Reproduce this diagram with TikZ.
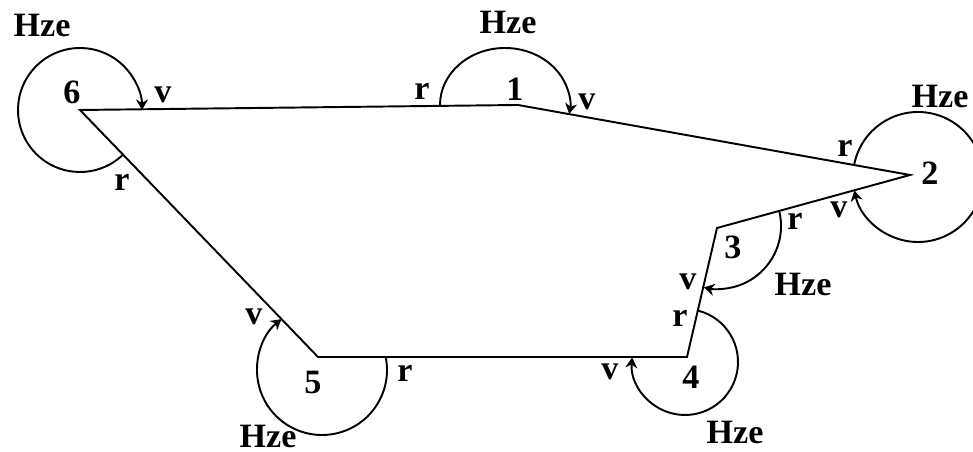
\documentclass[tikz,border=0pt]{standalone}
\usepackage{fontspec}
\setmainfont{Liberation Serif}
\usetikzlibrary{arrows.meta}
\tikzset{angarc/.style={-{Stealth[length=3pt,width=3.4pt]}}}
\begin{document}
\begin{tikzpicture}[every node/.style={font=\fontsize{9.7}{11}\selectfont\bfseries, inner sep=0pt}, line width=0.55pt, x=0.01cm, y=0.01cm]
  \useasboundingbox (0,0) rectangle (973,452);
  % corners of the polygon, numbered as printed
  \coordinate (n1) at (518,347); \coordinate (n2) at (910,277); \coordinate (n3) at (717,224);
  \coordinate (n4) at (687,95); \coordinate (n5) at (318,95); \coordinate (n6) at (80,342);
  \draw (n6) -- (n1) -- (n2) -- (n3) -- (n4) -- (n5) -- cycle;
  % centres of the angle arcs, r -> v
  \coordinate (c1) at (505,347); \coordinate (c2) at (918,275); \coordinate (c3) at (718,226);
  \coordinate (c4) at (685,90); \coordinate (c5) at (322,82);
  \draw[angarc] ([shift={(-46:62)}]n6) arc[start angle=-46, end angle=-360, radius=62];
  \draw[angarc] ([shift={(-65,0)}]c1) arc[start angle=180, end angle=-9, x radius=65, y radius=57];
  \draw[angarc] ([shift={(169:65)}]c2) arc[start angle=169, end angle=-168, radius=65];
  \draw[angarc] ([shift={(14:63)}]c3) arc[start angle=14, end angle=-103, radius=63];
  \draw[angarc] ([shift={(76:53)}]c4) arc[start angle=76, end angle=-185, radius=53];
  \draw[angarc] ([shift={(11.5:65)}]c5) arc[start angle=11.5, end angle=-231.5, radius=65];
  % numbers
  \node (l6) at (72,360) {6}; \node (l1) at (515,363) {1}; \node (l2) at (930,279) {2};
  \node (l3) at (733,205) {3}; \node (l4) at (691,75) {4}; \node (l5) at (313,69) {5};
  % Hze labels
  \node (h6) at (42,426) {Hze}; \node (h1) at (508,429) {Hze}; \node (h2) at (940,355) {Hze};
  \node (h3) at (803,168) {Hze}; \node (h4) at (735,20) {Hze}; \node (h5) at (268,16) {Hze};
  % r and v marks
  \node (r6) at (122,270) {r}; \node (v6) at (163,357) {v};
  \node (r1) at (422,361) {r}; \node (v1) at (587,350) {v};
  \node (r2) at (845,304) {r}; \node (v2) at (839,242) {v};
  \node (r3) at (795,231) {r}; \node (v3) at (688,170) {v};
  \node (r4) at (680,134) {r}; \node (v4) at (610,80) {v};
  \node (r5) at (405,79) {r}; \node (v5) at (254,135) {v};
\end{tikzpicture}
\end{document}
